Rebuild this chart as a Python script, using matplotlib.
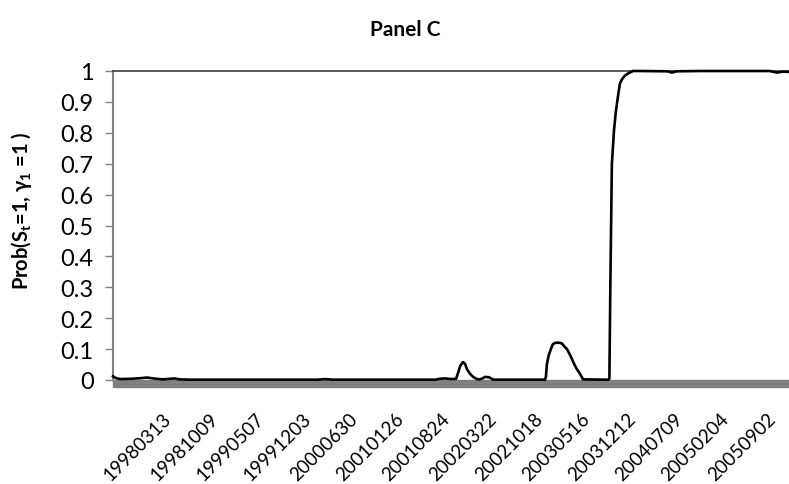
import matplotlib.pyplot as plt
from matplotlib.patches import Rectangle

plt.rcParams['font.family'] = ['Lato', 'DejaVu Sans']
plt.rcParams['mathtext.fontset'] = 'custom'
plt.rcParams['mathtext.bf'] = 'Lato:bold'
plt.rcParams['mathtext.rm'] = 'Lato'

obs = [0, 6, 13, 26, 60, 90, 110, 130, 160, 185, 200, 215, 249, 500, 660, 685, 710,
       1000, 1040, 1056, 1072, 1095, 1108, 1115, 1121, 1130, 1137, 1143, 1153, 1163,
       1175, 1185, 1195, 1201, 1214, 1226, 1234, 1395, 1398, 1401, 1407, 1414, 1420,
       1427, 1440, 1450, 1458, 1466, 1474, 1482, 1490, 1498, 1508, 1518, 1600, 1603,
       1606, 1611, 1618, 1624, 1631, 1637, 1645, 1653, 1665, 1679, 1700, 1790, 1805,
       1820, 1900, 2000, 2120, 2144, 2165, 2183]
prob = [0.012, 0.008, 0.005, 0.003, 0.004, 0.006, 0.008, 0.005, 0.002, 0.004, 0.005,
        0.002, 0.001, 0.001, 0.001, 0.003, 0.001,
        0.001, 0.001, 0.004, 0.005, 0.003, 0.004, 0.025, 0.045, 0.058, 0.052, 0.035,
        0.02, 0.01, 0.003, 0.002, 0.006, 0.01, 0.009, 0.002, 0.001, 0.001, 0.01,
        0.05, 0.08, 0.1, 0.115, 0.12, 0.121, 0.118, 0.108, 0.1, 0.085, 0.068, 0.05,
        0.035, 0.02, 0.002, 0.001, 0.005, 0.3, 0.7, 0.81, 0.87, 0.92, 0.96, 0.975,
        0.985, 0.993, 1.0, 1.0, 0.999, 0.995, 0.999, 1.0, 1.0, 1.0, 0.995, 0.998, 0.997]

tick_labels = ['19980313', '19981009', '19990507', '19991203', '20000630', '20010126',
               '20010824', '20020322', '20021018', '20030516', '20031212', '20040709',
               '20050204', '20050902']
n_obs = 2183
first_tick = 160
tick_step = 150

fig = plt.figure(figsize=(7.89, 4.85), dpi=100)
ax = fig.add_axes([113 / 789, 1 - 381 / 485, 676 / 789, 309 / 485])

ax.plot(obs, prob, color='black', lw=1.9, solid_joinstyle='round', clip_on=False, zorder=3)

ax.set_xlim(0, n_obs)
ax.set_ylim(0, 1)
ax.set_yticks([i / 10 for i in range(11)])
ax.set_yticklabels(['0', '0.1', '0.2', '0.3', '0.4', '0.5', '0.6', '0.7', '0.8', '0.9', '1'])
ax.tick_params(axis='y', direction='out', length=6, width=1, color='#808080',
               labelsize=17, pad=8)

ax.set_xticks([first_tick + tick_step * i for i in range(len(tick_labels))])
ax.set_xticklabels(tick_labels, rotation=45, ha='right', rotation_mode='anchor')
ax.tick_params(axis='x', length=0, labelsize=13.5, pad=21)

ax.spines['right'].set_visible(False)
ax.spines['left'].set_color('#808080')
ax.spines['left'].set_linewidth(1.5)
ax.spines['top'].set_color('#404040')
ax.spines['top'].set_linewidth(1.2)
ax.spines['bottom'].set_visible(False)

# grey floor under the zero line
ax.add_patch(Rectangle((0, -7 / 309), 1, 7 / 309, transform=ax.transAxes,
                       color='#808080', clip_on=False, zorder=2))

ax.set_ylabel(r'Prob(S$\mathbf{_t}$=1, $\mathbf{\gamma_1}$ =1 )', fontsize=14.5,
              fontweight='bold')
ax.yaxis.set_label_coords(-0.117, 0.55)
fig.text(405 / 789, 1 - 30 / 485, 'Panel C', ha='center', va='center',
         fontsize=15, fontweight='bold')

fig.savefig('out.png', dpi=100)
